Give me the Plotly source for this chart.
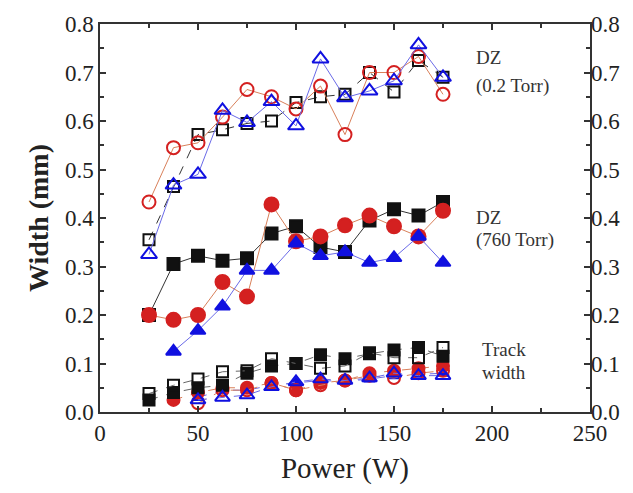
import plotly.graph_objects as go

power = [25, 37.5, 50, 62.5, 75, 87.5, 100, 112.5, 125, 137.5, 150, 162.5, 175]
power_b = power[1:]
power_c = power[2:]

# DZ (0.2 Torr)
dz02_sq = [0.355, 0.465, 0.572, 0.582, 0.595, 0.600, 0.638, 0.650, 0.655, 0.700, 0.660, 0.725, 0.690]
dz02_ci = [0.433, 0.545, 0.555, 0.608, 0.665, 0.650, 0.625, 0.672, 0.572, 0.700, 0.700, 0.733, 0.655]
dz02_tr = [0.325, 0.468, 0.490, 0.622, 0.597, 0.640, 0.590, 0.728, 0.648, 0.662, 0.683, 0.757, 0.690]

# DZ (760 Torr)
dz760_sq = [0.200, 0.305, 0.322, 0.312, 0.317, 0.368, 0.383, 0.340, 0.330, 0.395, 0.418, 0.405, 0.433]
dz760_ci = [0.200, 0.190, 0.200, 0.268, 0.238, 0.428, 0.352, 0.362, 0.385, 0.405, 0.383, 0.362, 0.415]
dz760_tr = [0.125, 0.168, 0.218, 0.292, 0.292, 0.348, 0.322, 0.330, 0.308, 0.318, 0.362, 0.308]

# Track width
tw_sq_open = [0.038, 0.055, 0.068, 0.083, 0.085, 0.110, 0.100, 0.090, 0.095, 0.122, 0.112, 0.112, 0.133]
tw_sq_fill = [0.025, 0.040, 0.050, 0.055, 0.080, 0.095, 0.100, 0.118, 0.110, 0.120, 0.128, 0.133, 0.115]
tw_ci_fill = [0.025, 0.040, 0.050, 0.050, 0.060, 0.045, 0.060, 0.065, 0.080, 0.085, 0.090, 0.095]
tw_ci_open = [0.018, 0.045, 0.045, 0.060, 0.045, 0.055, 0.065, 0.075, 0.070, 0.080, 0.085]
tw_tr_open = [0.025, 0.030, 0.035, 0.052, 0.062, 0.068, 0.065, 0.070, 0.080, 0.075, 0.075]
tw_tr_fill = [0.030, 0.045, 0.045, 0.055, 0.060, 0.065, 0.063, 0.068, 0.075, 0.078, 0.080]

y_ticks = [0.0, 0.1, 0.2, 0.3, 0.4, 0.5, 0.6, 0.7, 0.8]
x_ticks = [0, 50, 100, 150, 200, 250]

BLACK = "#111111"
RED = "#d42020"
BLUE = "#1010e0"
RED_L = "#d9805a"
BLUE_L = "#6a6ae8"

FONT = "Liberation Serif"

fig = go.Figure()


def add(x, y, symbol, mcol, lcol, dash="solid", lw=1, size=11, mlw=2):
    fig.add_trace(go.Scatter(
        x=x, y=y, mode="lines+markers",
        line=dict(color=lcol, width=lw, dash=dash),
        marker=dict(symbol=symbol, size=size, color=mcol,
                    line=dict(color=mcol, width=mlw)),
        showlegend=False, cliponaxis=False))


# track width (dashed)
add(power_c, tw_tr_fill, "triangle-up", BLUE, BLUE_L, "dash", size=10)
add(power_b, tw_ci_fill, "circle", RED, RED_L, "dash", size=12)
add(power_c, tw_ci_open, "circle-open", RED, RED_L, "dash", size=12)
add(power, tw_sq_fill, "square", BLACK, "#666666", "dash", size=11)
add(power, tw_sq_open, "square-open", BLACK, "#666666", "dash", size=11)
add(power_c, tw_tr_open, "triangle-up-open", BLUE, BLUE_L, "dash", size=13)

# DZ 760 Torr
add(power, dz760_sq, "square", BLACK, "#333333", size=12)
add(power, dz760_ci, "circle", RED, RED_L, size=14)
add(power_b, dz760_tr, "triangle-up", BLUE, BLUE_L, size=13)

# DZ 0.2 Torr
add(power, dz02_sq, "square-open", BLACK, "#333333", "dash", size=11)
add(power, dz02_ci, "circle-open", RED, RED_L, size=13)
add(power, dz02_tr, "triangle-up-open", BLUE, BLUE_L, size=14)

# invisible trace for right axis
fig.add_trace(go.Scatter(x=[None], y=[None], yaxis="y2", showlegend=False))

tickfont = dict(family=FONT, size=23, color="#222222")

fig.update_layout(
    width=633, height=493,
    margin=dict(l=100, r=43, t=18, b=81),
    paper_bgcolor="white", plot_bgcolor="white",
    xaxis=dict(range=[0, 250], tickvals=x_ticks, ticks="inside", ticklen=6,
               tickwidth=1.5, tickcolor="#333333",
               minor=dict(dtick=25, ticks="inside", ticklen=4, tickcolor="#333333"),
               showline=True, linecolor="#333333", linewidth=1.5, mirror="ticks",
               showgrid=False, zeroline=False, tickfont=tickfont,
               title=dict(text="Power (W)", font=dict(family=FONT, size=29, color="#222222"),
                          standoff=12)),
    yaxis=dict(range=[0, 0.8], tickvals=y_ticks, tickformat=".1f", ticks="inside", ticklen=6,
               tickwidth=1.5, tickcolor="#333333",
               minor=dict(dtick=0.05, ticks="inside", ticklen=4, tickcolor="#333333"),
               showline=True, linecolor="#333333", linewidth=1.5, mirror="ticks",
               showgrid=False, zeroline=False, tickfont=tickfont,
               title=dict(text="<b>Width (mm)</b>", font=dict(family=FONT, size=28, color="#222222"),
                          standoff=8)),
    yaxis2=dict(range=[0, 0.8], tickvals=y_ticks, tickformat=".1f", ticks="inside", ticklen=6,
                tickwidth=1.5, tickcolor="#333333",
                minor=dict(dtick=0.05, ticks="inside", ticklen=4, tickcolor="#333333"),
                overlaying="y", side="right", showgrid=False, zeroline=False,
                tickfont=tickfont),
)

labels = [
    (0.731, "DZ"), (0.672, "(0.2 Torr)"),
    (0.402, "DZ"), (0.355, "(760 Torr)"),
    (0.128, "Track"), (0.081, "width"),
]
for i, (yy, txt) in enumerate(labels):
    xx = 191 if i < 4 else 194
    fig.add_annotation(x=xx, y=yy, text=txt, showarrow=False, xanchor="left",
                       font=dict(family=FONT, size=19, color="#333333"))

fig.write_html("out.html")
